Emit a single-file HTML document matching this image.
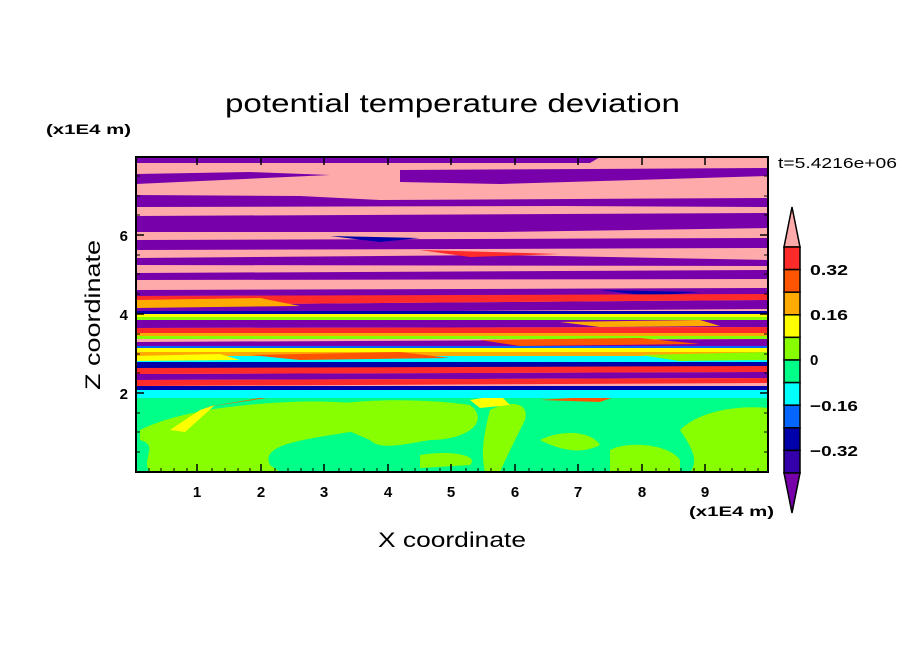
<!DOCTYPE html>
<html><head><meta charset="utf-8"><style>
html,body{margin:0;padding:0;background:#fff;}
svg text{font-family:"Liberation Sans",sans-serif;}
</style></head><body>
<svg width="904" height="654" viewBox="0 0 904 654" xmlns="http://www.w3.org/2000/svg">
<rect width="904" height="654" fill="#fff"/>
<text x="225" y="112" font-size="26" textLength="455" lengthAdjust="spacingAndGlyphs" fill="#000">potential temperature deviation</text>
<text x="46" y="134" font-size="14" font-weight="bold" textLength="85" lengthAdjust="spacingAndGlyphs" fill="#000">(x1E4 m)</text>
<text x="689" y="516" font-size="14" font-weight="bold" textLength="85" lengthAdjust="spacingAndGlyphs" fill="#000">(x1E4 m)</text>
<text x="778" y="168" font-size="15" textLength="119" lengthAdjust="spacingAndGlyphs" fill="#000">t=5.4216e+06</text>
<text x="378" y="547" font-size="21" textLength="148" lengthAdjust="spacingAndGlyphs" fill="#000">X coordinate</text>
<text x="0" y="0" font-size="21" textLength="150" lengthAdjust="spacingAndGlyphs" fill="#000" transform="translate(100,390) rotate(-90)">Z coordinate</text>
<defs><clipPath id="c"><rect x="136" y="157" width="632" height="315"/></clipPath></defs>
<g clip-path="url(#c)">
<rect x="136" y="157" width="632" height="238" fill="#ffaaaa"/>
<g fill="#7700aa">
<polygon points="136,157 600,157 590,163 136,163"/>
<polygon points="136,174 250,172 330,175 136,184"/>
<polygon points="400,170 768,168 768,176 500,184 400,182"/>
<polygon points="136,195 300,196 380,200 768,198 768,207 560,206 136,207"/>
<polygon points="136,216 768,213 768,228 500,232 136,232"/>
<polygon points="136,240 768,238 768,248 136,250"/>
<polygon points="136,258 500,255 768,260 768,266 136,265"/>
<polygon points="136,273 768,270 768,279 136,280"/>
<polygon points="136,290 768,288 768,295 136,296"/>
<polygon points="136,305 768,300 768,309 136,313"/>
<polygon points="136,320 768,318 768,327 136,328"/>
<polygon points="136,342 768,339 768,346 136,348"/>
<polygon points="136,374 768,372 768,378 136,380"/>
</g>
<g fill="#0000aa">
<rect x="136" y="311" width="632" height="3"/>
<rect x="136" y="362" width="632" height="6"/>
<rect x="136" y="386" width="632" height="4"/>
<polygon points="330,236 420,238 380,242"/>
<polygon points="600,290 700,292 650,296"/>
</g>
<g fill="#ff2a2a">
<polygon points="136,296 768,294 768,300 136,305"/>
<polygon points="136,328 768,327 768,333 136,335"/>
<polygon points="136,368 768,366 768,372 136,374"/>
<polygon points="136,380 768,378 768,383 136,386"/>
<polygon points="420,250 560,254 470,257"/>
</g>
<g fill="#ffaa00">
<rect x="136" y="333" width="632" height="3"/>
<rect x="136" y="352" width="632" height="4"/>
</g>
<g fill="#ffff00">
<rect x="136" y="314" width="632" height="3"/>
<rect x="136" y="348" width="632" height="4"/>
</g>
<g fill="#88ff00">
<rect x="136" y="336" width="632" height="3"/>
<rect x="136" y="317" width="632" height="3"/>
</g>
<g fill="#00ffff">
<rect x="136" y="356" width="632" height="6"/>
<rect x="136" y="390" width="632" height="5"/>
</g>
<g fill="#0066ff"><rect x="136" y="346" width="632" height="2"/></g>
<polygon points="136,300 260,298 300,306 136,308" fill="#ffaa00"/>
<polygon points="480,340 640,338 700,344 520,346" fill="#ff5500"/>
<polygon points="250,355 400,352 450,358 300,360" fill="#ff5500"/>
<polygon points="560,322 700,320 720,326 600,327" fill="#ffaa00"/>
<polygon points="136,356 220,354 240,360 136,361" fill="#ffff00"/>
<polygon points="640,355 768,352 768,360 680,361" fill="#88ff00"/>
<rect x="136" y="395" width="632" height="77" fill="#00ff88"/>
<g fill="#88ff00">
<path d="M140,430 C170,415 220,405 290,402 C340,400 380,405 400,410 C420,425 380,430 350,432 C300,440 260,445 270,465 L280,472 L150,472 C140,460 160,445 140,440 Z"/>
<path d="M300,410 C350,398 420,398 470,405 C490,420 470,440 430,440 C400,445 380,450 370,440 Z"/>
<path d="M490,410 C510,400 530,402 525,420 C515,440 505,460 500,472 L485,472 C480,450 485,430 490,410 Z"/>
<path d="M540,440 C560,430 590,430 600,445 C580,455 560,450 540,440 Z"/>
<path d="M610,450 C630,440 670,445 680,460 L680,472 L610,472 Z"/>
<path d="M680,430 C700,410 740,405 768,408 L768,472 L690,472 C700,460 690,445 680,430 Z"/>
<path d="M420,455 C450,450 480,455 470,465 L420,468 Z"/>
</g>
<g fill="#ffff00">
<polygon points="170,430 200,410 215,405 185,432"/>
<polygon points="470,400 500,395 510,405 480,408"/>
</g>
<g fill="#ff5500">
<polygon points="200,408 260,398 280,396 220,405"/>
<polygon points="540,400 620,395 600,402"/>
</g>
<rect x="136" y="395" width="632" height="3" fill="#00ffff"/>
</g>
<rect x="136" y="157" width="632" height="315" fill="none" stroke="#000" stroke-width="2"/>
<g stroke="#000" stroke-width="1.5">
<path d="M197,472v-8M261,472v-8M324,472v-8M388,472v-8M451,472v-8M515,472v-8M578,472v-8M642,472v-8M705,472v-8"/>
<path d="M197,157v8M261,157v8M324,157v8M388,157v8M451,157v8M515,157v8M578,157v8M642,157v8M705,157v8"/>
<path d="M136,393h8M136,314h8M136,235h8M768,393h-8M768,314h-8M768,235h-8"/>
</g>
<g stroke="#000" stroke-width="1">
<path d="M149,472v-4M161,472v-4M174,472v-4M187,472v-4M212,472v-4M225,472v-4M238,472v-4M250,472v-4M275,472v-4M288,472v-4M301,472v-4M313,472v-4M339,472v-4M351,472v-4M364,472v-4M377,472v-4M402,472v-4M415,472v-4M427,472v-4M440,472v-4M466,472v-4M478,472v-4M491,472v-4M504,472v-4M529,472v-4M542,472v-4M554,472v-4M567,472v-4M593,472v-4M605,472v-4M618,472v-4M631,472v-4M656,472v-4M669,472v-4M681,472v-4M694,472v-4M720,472v-4M732,472v-4M745,472v-4M758,472v-4"/>
<path d="M136,452h4M136,432h4M136,413h4M136,373h4M136,354h4M136,334h4M136,294h4M136,274h4M136,255h4M136,215h4M136,196h4M136,176h4M768,452h-4M768,432h-4M768,413h-4M768,373h-4M768,354h-4M768,334h-4M768,294h-4M768,274h-4M768,255h-4M768,215h-4M768,196h-4M768,176h-4"/>
</g>
<g font-size="15" font-weight="bold" text-anchor="middle" fill="#000">
<text x="197" y="497">1</text><text x="261" y="497">2</text><text x="324" y="497">3</text><text x="388" y="497">4</text><text x="451" y="497">5</text><text x="515" y="497">6</text><text x="578" y="497">7</text><text x="642" y="497">8</text><text x="705" y="497">9</text>
</g>
<g font-size="15" font-weight="bold" text-anchor="end" fill="#000">
<text x="128" y="399">2</text><text x="128" y="320">4</text><text x="128" y="241">6</text>
</g>
<g stroke="#000" stroke-width="1.5">
<polygon points="792,207 800,247 784,247" fill="#ffaaaa"/>
<rect x="784" y="247" width="16" height="22.6" fill="#ff2a2a"/>
<rect x="784" y="269.6" width="16" height="22.6" fill="#ff5500"/>
<rect x="784" y="292.2" width="16" height="22.6" fill="#ffaa00"/>
<rect x="784" y="314.8" width="16" height="22.6" fill="#ffff00"/>
<rect x="784" y="337.4" width="16" height="22.6" fill="#88ff00"/>
<rect x="784" y="360" width="16" height="22.6" fill="#00ff88"/>
<rect x="784" y="382.6" width="16" height="22.6" fill="#00ffff"/>
<rect x="784" y="405.2" width="16" height="22.6" fill="#0066ff"/>
<rect x="784" y="427.8" width="16" height="22.6" fill="#0000aa"/>
<rect x="784" y="450.4" width="16" height="22.6" fill="#3300aa"/>
<polygon points="784,473 800,473 792,513" fill="#7700aa"/>
</g>
<g font-size="15" font-weight="bold" fill="#000">
<text x="810" y="275" textLength="38" lengthAdjust="spacingAndGlyphs">0.32</text>
<text x="810" y="320" textLength="38" lengthAdjust="spacingAndGlyphs">0.16</text>
<text x="810" y="365">0</text>
<text x="810" y="411" textLength="48" lengthAdjust="spacingAndGlyphs">−0.16</text>
<text x="810" y="456" textLength="48" lengthAdjust="spacingAndGlyphs">−0.32</text>
</g>
</svg>
</body></html>
